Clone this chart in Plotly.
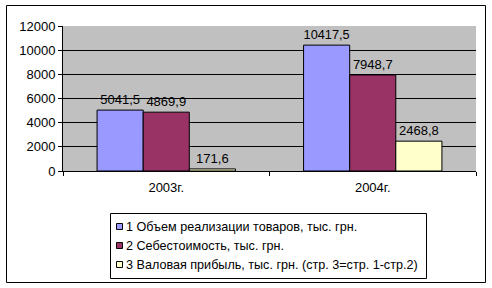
import plotly.graph_objects as go

categories = ["2003г.", "2004г."]
series_names = [
    "1 Объем реализации товаров, тыс. грн.",
    "2 Себестоимость, тыс. грн.",
    "3 Валовая прибыль, тыс. грн. (стр. 3=стр. 1-стр.2)",
]
s1 = [5041.5, 10417.5]
s2 = [4869.9, 7948.7]
s3 = [171.6, 2468.8]
colors = ["#9999FF", "#993366", "#FFFFCC"]
y_ticks = [0, 2000, 4000, 6000, 8000, 10000, 12000]

FONT = "Liberation Sans, Arial"
FS = 13

def fmt(v):
    return f"{v:.1f}".replace(".", ",")

fig = go.Figure()
for name, vals, col in zip(series_names, [s1, s2, s3], colors):
    fig.add_trace(go.Bar(
        x=categories, y=vals, name=name, showlegend=False,
        marker=dict(color=col, line=dict(color="black", width=1)),
        text=[fmt(v) for v in vals], textposition="outside",
        textfont=dict(family=FONT, size=FS, color="black"),
        cliponaxis=False,
    ))

L, T, R, B = 63, 26, 16, 117
W, H = 492, 288
pw, ph = W - L - R, H - T - B

def px(x):
    return (x - L) / pw

def py(y):
    return (H - B - y) / ph

shapes = [
    dict(type="rect", xref="paper", yref="paper",
         x0=px(6.5), x1=px(485.5), y0=py(282.5), y1=py(5.5),
         line=dict(color="black", width=1), fillcolor="rgba(0,0,0,0)",
         layer="below"),
    dict(type="rect", xref="paper", yref="paper",
         x0=px(110.5), x1=px(426.5), y0=py(278.5), y1=py(213.5),
         line=dict(color="black", width=1), fillcolor="white",
         layer="below"),
]
annotations = []
row_y = [226, 245, 264]
for name, col, yy in zip(series_names, colors, row_y):
    shapes.append(dict(
        type="rect", xref="paper", yref="paper",
        x0=px(116.5), x1=px(122.5), y0=py(yy + 3.5), y1=py(yy - 2.5),
        line=dict(color="black", width=1), fillcolor=col, layer="above"))
    annotations.append(dict(
        text=name, xref="paper", yref="paper", x=px(124), y=py(yy + 0.5),
        xanchor="left", yanchor="middle", showarrow=False,
        font=dict(family=FONT, size=12.6, color="black")))

fig.update_layout(
    width=W, height=H,
    margin=dict(l=L, r=R, t=T, b=B, autoexpand=False),
    paper_bgcolor="white", plot_bgcolor="#C0C0C0",
    barmode="group", bargap=0.33, bargroupgap=0,
    font=dict(family=FONT, size=FS, color="black"),
    showlegend=False,
    xaxis=dict(
        type="category", tickson="boundaries", ticks="outside", ticklen=4,
        tickcolor="black", showline=True, linecolor="black", linewidth=1,
        showgrid=False, tickfont=dict(size=FS), automargin=False,
        ticklabelstandoff=4,
    ),
    yaxis=dict(
        range=[0, 12000], tickvals=y_ticks, ticktext=[str(v) for v in y_ticks],
        ticks="outside", ticklen=4,
        tickcolor="black", showline=True, linecolor="black", linewidth=1,
        showgrid=True, gridcolor="black", gridwidth=1, zeroline=False,
        tickfont=dict(size=FS), automargin=False,
    ),
    shapes=shapes,
    annotations=annotations,
)

fig.write_html("out.html")
